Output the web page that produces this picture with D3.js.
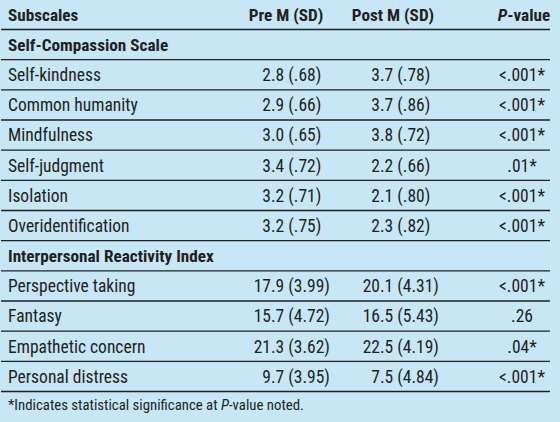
<!DOCTYPE html>
<html><head><meta charset="utf-8">
<script src="https://cdn.jsdelivr.net/npm/d3@7"></script>
<style>
html,body{margin:0;padding:0;background:#c7e6f6;}
svg{display:block;}
text{font-family:"Liberation Sans Narrow","Arial Narrow","Roboto Condensed","Liberation Sans",sans-serif;fill:#231f20;}
</style></head>
<body><svg id="c" width="560" height="422"></svg>
<script>
const headers = ["Subscales", "Pre M (SD)", "Post M (SD)", "P-value"];
const groups = ["Self-Compassion Scale", "Interpersonal Reactivity Index"];
const subscales = ["Self-kindness","Common humanity","Mindfulness","Self-judgment","Isolation","Overidentification",
  "Perspective taking","Fantasy","Empathetic concern","Personal distress"];
const groupOf = [0,0,0,0,0,0,1,1,1,1];
const preMean = ["2.8","2.9","3.0","3.4","3.2","3.2","17.9","15.7","21.3","9.7"];
const preSD = [".68",".66",".65",".72",".71",".75","3.99","4.72","3.62","3.95"];
const postMean = ["3.7","3.7","3.8","2.2","2.1","2.3","20.1","16.5","22.5","7.5"];
const postSD = [".78",".86",".72",".66",".80",".82","4.31","5.43","4.19","4.84"];
const pValues = ["<.001*","<.001*","<.001*",".01*","<.001*","<.001*","<.001*",".26",".04*","<.001*"];
const footnote = ["*Indicates statistical significance at ", "P", "-value noted."];

const rows = [{type:"header"}];
groups.forEach((g,gi)=>{
  rows.push({type:"group", label:g});
  subscales.forEach((s,i)=>{ if(groupOf[i]===gi) rows.push({type:"item", i}); });
});

const svg = d3.select("#c");
const yLine = d3.scaleLinear().domain([0, rows.length-1]).range([29.5, 391.5]);
const rowCenter = r => yLine(r) - 15;
const x = {label: 8, preDec: 271, postDec: 380, pCenter: 522, preHead: 286, postHead: 393, pHead: 524};
const lineX = [1, 550];
const fs = 17.5, fsb = 17.2;
const base = 6.2;

svg.selectAll("line.rule").data(rows).join("line")
  .attr("class","rule")
  .attr("x1", lineX[0]).attr("x2", lineX[1])
  .attr("y1", (d,i)=>yLine(i)).attr("y2", (d,i)=>yLine(i))
  .attr("stroke","#231f20").attr("stroke-width",1.3);

rows.forEach((r, ri)=>{
  const yb = rowCenter(ri) + base;
  if (r.type === "header") {
    svg.append("text").attr("x", x.label).attr("y", yb).attr("font-size", fsb).attr("font-weight","bold").text(headers[0]);
    svg.append("text").attr("x", x.preHead).attr("y", yb).attr("font-size", fsb).attr("font-weight","bold").attr("text-anchor","middle").text(headers[1]);
    svg.append("text").attr("x", x.postHead).attr("y", yb).attr("font-size", fsb).attr("font-weight","bold").attr("text-anchor","middle").text(headers[2]);
    const t = svg.append("text").attr("x", x.pHead).attr("y", yb).attr("font-size", fsb).attr("font-weight","bold").attr("text-anchor","middle");
    t.append("tspan").attr("font-style","italic").text(headers[3].slice(0,1));
    t.append("tspan").text(headers[3].slice(1));
  } else if (r.type === "group") {
    svg.append("text").attr("x", x.label).attr("y", yb).attr("font-size", fsb).attr("font-weight","bold").text(r.label);
  } else {
    const i = r.i;
    svg.append("text").attr("x", x.label).attr("y", yb).attr("font-size", fs).text(subscales[i]);
    const [pi, pf] = preMean[i].split(".");
    svg.append("text").attr("x", x.preDec).attr("y", yb).attr("font-size", fs).attr("text-anchor","end").text(pi);
    svg.append("text").attr("x", x.preDec).attr("y", yb).attr("font-size", fs).text("." + pf + " (" + preSD[i] + ")");
    const [qi, qf] = postMean[i].split(".");
    svg.append("text").attr("x", x.postDec).attr("y", yb).attr("font-size", fs).attr("text-anchor","end").text(qi);
    svg.append("text").attr("x", x.postDec).attr("y", yb).attr("font-size", fs).text("." + qf + " (" + postSD[i] + ")");
    svg.append("text").attr("x", x.pCenter).attr("y", yb).attr("font-size", fs).attr("text-anchor","middle").text(pValues[i]);
  }
});

const fn = svg.append("text").attr("x", x.label).attr("y", 410).attr("font-size", 14.8);
fn.append("tspan").text(footnote[0]);
fn.append("tspan").attr("font-style","italic").text(footnote[1]);
fn.append("tspan").text(footnote[2]);
</script></body></html>
